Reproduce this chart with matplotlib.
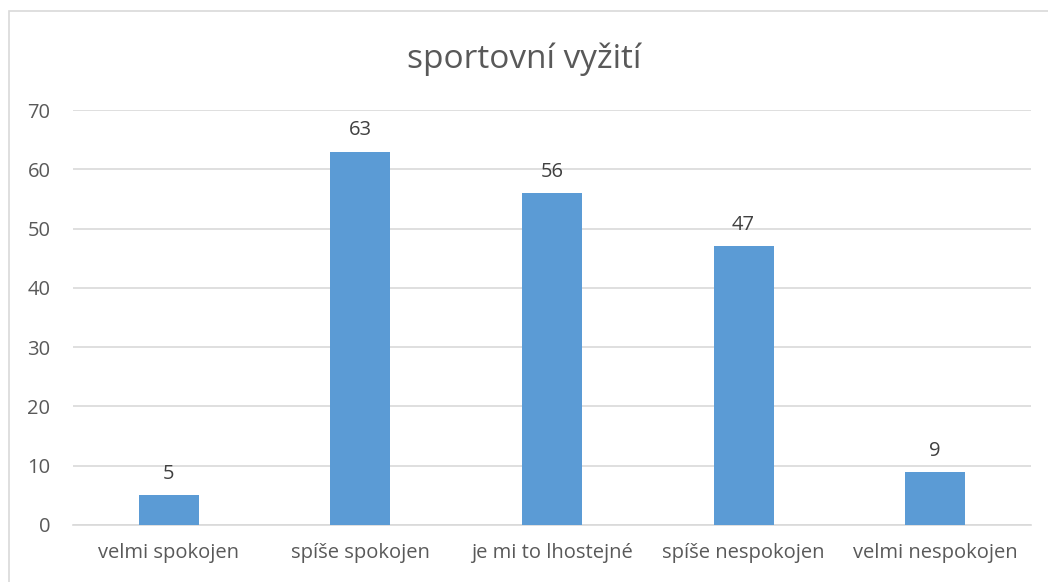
"""Sportovni vyziti - bar chart."""
import matplotlib
matplotlib.use('Agg')

import matplotlib.pyplot as plt
from matplotlib.patches import Rectangle

categories = [
    'velmi spokojen',
    'spíše spokojen',
    'je mi to lhostejné',
    'spíše nespokojen',
    'velmi nespokojen',
]
values = [5, 63, 56, 47, 9]
yticks = [0, 10, 20, 30, 40, 50, 60, 70]

plt.rcParams['font.family'] = ['Open Sans', 'DejaVu Sans']

W, H = 1048, 582
fig = plt.figure(figsize=(W / 100, H / 100), dpi=100)

# light border round the chart area (cut off at right/bottom)
fig.patches.append(Rectangle(
    (9 / W, -0.1), 1.2, 1 - 11 / H + 0.1,
    transform=fig.transFigure, fill=False, ec='#D9D9D9', lw=1.2,
))

ax = fig.add_axes([72.7 / W, 1 - 525 / H, (1031 - 72.7) / W, (525 - 110) / H])

x = range(len(categories))
bars = ax.bar(x, values, width=0.313, color='#5B9BD5', zorder=3)

for xi, v in zip(x, values):
    ax.annotate(str(v), (xi, v), xytext=(0, 8), textcoords='offset points',
                ha='center', va='bottom', fontsize=14.5, color='#404040')

ax.set_xlim(-0.5, len(categories) - 0.5)
ax.set_ylim(0, 70)
ax.set_yticks(yticks)
ax.set_xticks(list(x))
ax.set_xticklabels(categories)
ax.tick_params(axis='both', length=0, labelsize=14.5, colors='#595959')
ax.tick_params(axis='y', pad=16)
ax.tick_params(axis='x', pad=13)
ax.grid(axis='y', color='#D9D9D9', lw=1.2, zorder=0)
for s in ['top', 'right', 'left']:
    ax.spines[s].set_visible(False)
ax.spines['bottom'].set_color('#D9D9D9')
ax.spines['bottom'].set_linewidth(1.2)

fig.text(0.5, 1 - 59 / H, 'sportovní vyžití', ha='center', va='center',
         fontsize=24, color='#595959')

fig.savefig('out.png', dpi=100)
